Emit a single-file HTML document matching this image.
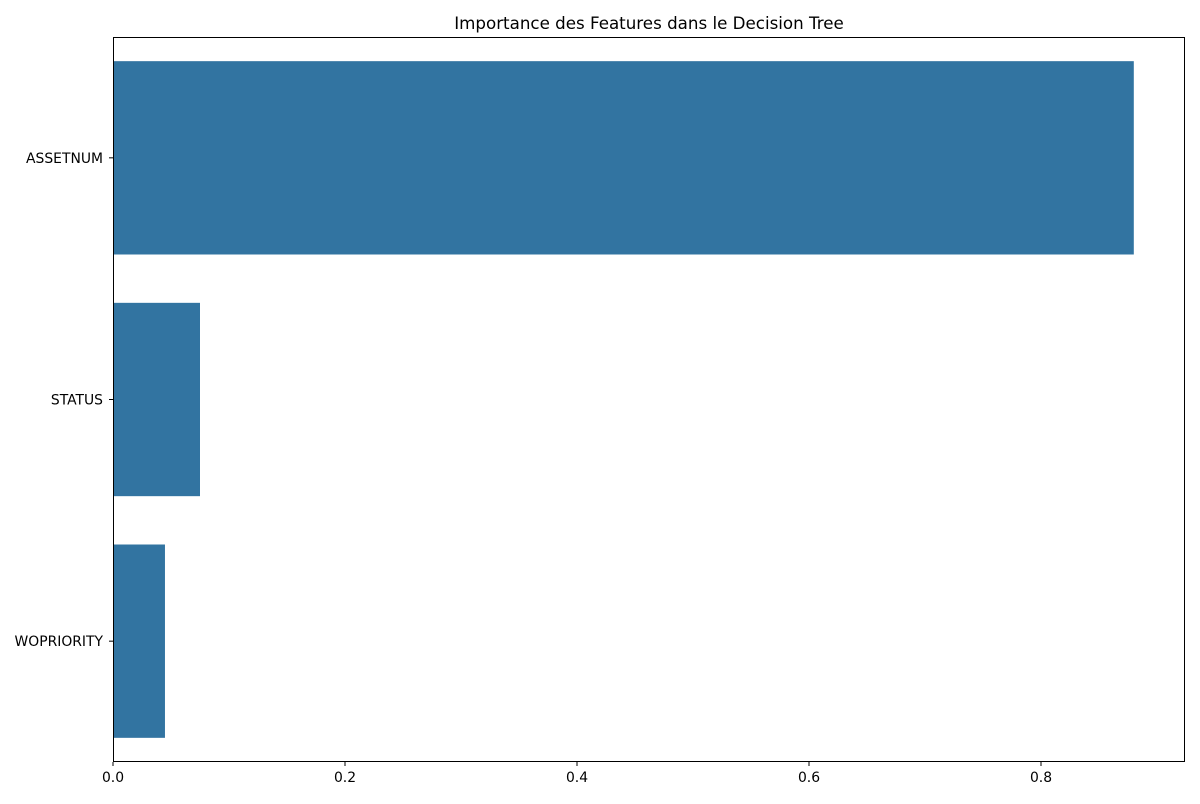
<!DOCTYPE html>
<html><head><meta charset="utf-8"><style>
body{margin:0;background:#fff;font-family:"DejaVu Sans","Liberation Sans",sans-serif}
svg text{font-family:"DejaVu Sans","Liberation Sans",sans-serif}
</style></head><body>
<svg id="chart" width="1200" height="800" xmlns="http://www.w3.org/2000/svg"></svg>
<script>
const categories=["ASSETNUM","STATUS","WOPRIORITY"];
const importances=[0.880,0.075,0.0448];
const xTicks=[0,0.2,0.4,0.6,0.8];
const xTickLabels=["0.0","0.2","0.4","0.6","0.8"];
const L=113,R=1185,T=37,B=762;
const xMax=(R-L)/1160;
const x=v=>L+v/xMax*(R-L);
const band=(B-T)/categories.length;
const yc=i=>T+band*(i+0.5);
const svg=document.getElementById('chart');
const NS="http://www.w3.org/2000/svg";
function mk(tag,attrs,parent){const e=document.createElementNS(NS,tag);for(const k in attrs)e.setAttribute(k,attrs[k]);(parent||svg).appendChild(e);return e;}
const title=mk('text',{x:(L+R)/2,y:29,'text-anchor':'middle','font-size':16.7,fill:'#000'});
title.textContent="Importance des Features dans le Decision Tree";


categories.forEach((c,i)=>{
  const h=band*0.8;
  const r=mk('rect',{x:L,y:yc(i)-h/2,width:x(importances[i])-L,height:h,fill:'#3274a1'});
  
  
  const t=mk('line',{x1:L-4,x2:L,y1:yc(i),y2:yc(i),stroke:'#000','stroke-width':1});
  
  
  const lb=mk('text',{x:L-10,y:yc(i)+5,'text-anchor':'end','font-size':13.9,fill:'#000'});
  lb.textContent=c;
  
  
});
xTicks.forEach((v,i)=>{
  const t=mk('line',{x1:x(v),x2:x(v),y1:B,y2:B+4,stroke:'#000','stroke-width':1});
  
  
  const lb=mk('text',{x:x(v),y:B+20,'text-anchor':'middle','font-size':13.9,fill:'#000'});
  lb.textContent=xTickLabels[i];
  
  
});
const frame=mk('rect',{x:L+0.5,y:T+0.5,width:R-L-1,height:B-T-1,fill:'none',stroke:'#000','stroke-width':1});


</script>
</body></html>
